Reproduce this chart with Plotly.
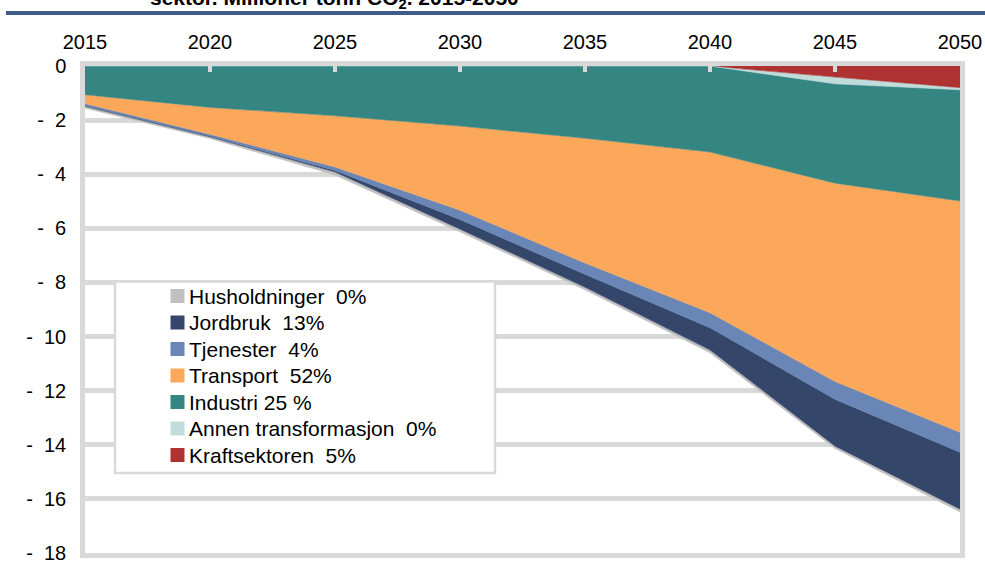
import plotly.graph_objects as go

# ---- data ----
years = [2015, 2020, 2025, 2030, 2035, 2040, 2045, 2050]

kraftsektoren = [0, 0, 0, 0, 0, 0, -0.41, -0.80]
annen_transformasjon = [0, 0, 0, 0, 0, 0, -0.25, -0.08]
industri = [-1.06, -1.53, -1.84, -2.22, -2.67, -3.18, -3.67, -4.11]
transport = [-0.33, -0.99, -1.89, -3.11, -4.61, -5.94, -7.33, -8.55]
tjenester = [-0.09, -0.08, -0.13, -0.34, -0.42, -0.55, -0.66, -0.74]
jordbruk = [-0.01, -0.02, -0.06, -0.36, -0.48, -0.83, -1.73, -2.10]
husholdninger = [-0.07, -0.06, -0.11, -0.10, -0.09, -0.10, -0.09, -0.10]

series_names = ["Kraftsektoren", "Annen transformasjon", "Industri", "Transport",
                "Tjenester", "Jordbruk", "Husholdninger"]
series_values = [kraftsektoren, annen_transformasjon, industri, transport,
                 tjenester, jordbruk, husholdninger]
legend_labels = ["Husholdninger\u00a0\u00a00%", "Jordbruk\u00a0\u00a013%", "Tjenester\u00a0\u00a04%",
                 "Transport\u00a0\u00a052%", "Industri 25 %", "Annen transformasjon\u00a0\u00a00%",
                 "Kraftsektoren\u00a0\u00a05%"]
legend_order = ["Husholdninger", "Jordbruk", "Tjenester", "Transport", "Industri",
                "Annen transformasjon", "Kraftsektoren"]

x_tick_vals = years
x_tick_text = [str(y) for y in years]
y_tick_vals = [0, -2, -4, -6, -8, -10, -12, -14, -16, -18]
y_tick_text = ["0"] + ["-\u00a0\u00a0" + str(-v) for v in y_tick_vals[1:]]

title_text = "sektor. Millioner tonn CO<sub>2</sub>. 2015-2050"

# ---- styles ----
colors = {
    "Kraftsektoren": "#ae3232",
    "Annen transformasjon": "#c0dcdb",
    "Industri": "#358583",
    "Transport": "#fca85a",
    "Tjenester": "#6986b6",
    "Jordbruk": "#34476b",
    "Husholdninger": "#c0c0c0",
}
FONT = "Liberation Sans, Arial, sans-serif"
GRID = "#d9d9d9"

W, H = 985, 565
ML, MR, MT, MB = 85, 25, 66, 12
PW, PH = W - ML - MR, H - MT - MB


def px_x(px):
    return (px - ML) / PW


def px_y(py):
    return 1 - (py - MT) / PH


fig = go.Figure()
for name, vals in zip(series_names, series_values):
    fig.add_trace(go.Scatter(
        x=years, y=vals, name=name, mode="lines",
        stackgroup="one", fillcolor=colors[name],
        line=dict(width=0.6, color=colors[name]),
        showlegend=False, hoverinfo="skip",
    ))

shapes = []
annotations = []

# legend frame
shapes.append(dict(type="rect", xref="paper", yref="paper",
                   x0=px_x(115), x1=px_x(495), y0=px_y(473), y1=px_y(281.5),
                   fillcolor="white", line=dict(color=GRID, width=2.5), layer="above"))
for i, (nm, lab) in enumerate(zip(legend_order, legend_labels)):
    cy = 296 + i * 26.5
    shapes.append(dict(type="rect", xref="paper", yref="paper",
                       x0=px_x(170.5), x1=px_x(184.5), y0=px_y(cy + 7), y1=px_y(cy - 7),
                       fillcolor=colors[nm], line=dict(width=0), layer="above"))
    annotations.append(dict(xref="paper", yref="paper", x=px_x(187), y=px_y(cy),
                            xanchor="left", yanchor="middle", text=lab, showarrow=False,
                            font=dict(family=FONT, size=21, color="black")))

# top blue rule
shapes.append(dict(type="line", xref="paper", yref="paper",
                   x0=px_x(6), x1=px_x(990), y0=px_y(13), y1=px_y(13),
                   line=dict(color="#3f5b8c", width=4), layer="above"))

# clipped title
annotations.append(dict(xref="paper", yref="paper", x=px_x(334), y=px_y(14),
                        xanchor="center", yanchor="bottom", text="<b>" + title_text + "</b>",
                        showarrow=False, font=dict(family=FONT, size=21, color="black")))

fig.update_layout(
    width=W, height=H,
    margin=dict(l=ML, r=MR, t=MT, b=MB, autoexpand=False),
    paper_bgcolor="white", plot_bgcolor="white",
    showlegend=False,
    font=dict(family=FONT, size=20, color="black"),
    shapes=shapes, annotations=annotations,
    xaxis=dict(
        range=[2015, 2050], side="top", automargin=False,
        tickvals=x_tick_vals, ticktext=x_tick_text,
        showgrid=False, zeroline=False,
        showline=True, linecolor=GRID, linewidth=4.5, mirror=True,
        ticks="inside", ticklen=6, tickwidth=4, tickcolor=GRID,
        ticklabelstandoff=4,
        tickfont=dict(family=FONT, size=20, color="black"),
    ),
    yaxis=dict(
        range=[-18, 0], automargin=False,
        tickvals=y_tick_vals, ticktext=y_tick_text,
        showgrid=True, gridcolor=GRID, gridwidth=4.5, zeroline=False,
        showline=True, linecolor=GRID, linewidth=4.5, mirror=True,
        ticks="", ticklabelstandoff=10,
        tickfont=dict(family=FONT, size=20, color="black"),
    ),
)

fig.write_html("out.html", config={"displayModeBar": False},
               post_script="document.body.style.margin='0';document.body.style.overflow='hidden';")
